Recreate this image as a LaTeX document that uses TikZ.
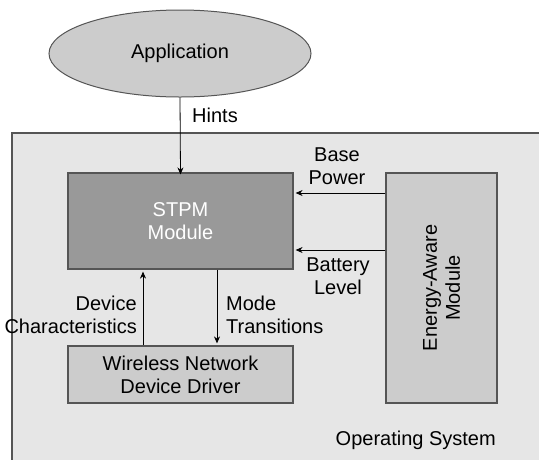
\documentclass[tikz,border=0pt]{standalone}
\usepackage{fontspec}
\setmainfont{Liberation Sans}
\usetikzlibrary{shapes.geometric,arrows.meta}
\definecolor{osfill}{HTML}{E6E6E6}
\definecolor{lightbox}{HTML}{CCCCCC}
\definecolor{darkbox}{HTML}{999999}
\definecolor{edge}{HTML}{555555}
\begin{document}
\begin{tikzpicture}[x=1pt,y=-1pt,
  font=\fontsize{20}{23}\selectfont,
  box/.style={draw=edge,line width=1.2pt,inner sep=0pt,align=center},
  flow/.style={draw=black,line width=0.8pt,-{Stealth[length=7pt,width=6pt]}},
  lbl/.style={inner sep=0pt,align=center}]
\useasboundingbox (0,0) rectangle (539,459);
% operating system area, running off the right and bottom edges
\fill[osfill] (12,133) rectangle (545,465);
\draw[edge,line width=1.5pt] (12,465) -- (12,133) -- (545,133);
\node[lbl,anchor=south east] (os) at (496,450) {Operating System};
% application
\node[ellipse,draw=edge,line width=1pt,fill=lightbox,minimum width=262pt,minimum height=87pt,inner sep=0pt] (app) at (180,53.5) {Application};
% modules
\node[box,fill=darkbox,text=white,minimum width=225pt,minimum height=96pt] (stpm) at (180.5,221) {STPM\\Module};
\node[box,fill=lightbox,minimum width=111pt,minimum height=230pt] (eam) at (441.5,288) {};
\node[lbl,rotate=90] (eamtext) at (eam.center) {Energy-Aware\\Module};
\node[box,fill=lightbox,minimum width=225pt,minimum height=57pt] (wnd) at (180.5,374.5) {Wireless Network\\Device Driver};
% connectors
\draw[flow] (app.south) -- ([yshift=-2pt]stpm.north);
\node[lbl,anchor=west] (hints) at (192,115) {Hints};
\coordinate (bpA) at (eam.west |- 0,193);
\coordinate (bpB) at ([xshift=2pt]stpm.east |- 0,193);
\draw[flow] (bpA) -- (bpB);
\node[lbl] (bp) at (337,166.5) {Base\\Power};
\coordinate (blA) at (eam.west |- 0,250);
\coordinate (blB) at ([xshift=2pt]stpm.east |- 0,250);
\draw[flow] (blA) -- (blB);
\node[lbl] (bl) at (338,276) {Battery\\Level};
\coordinate (dcA) at (wnd.north -| 143,0);
\coordinate (dcB) at ([yshift=-2pt]stpm.south -| 143,0);
\draw[flow] (dcA) -- (dcB);
\node[lbl,align=right,anchor=east] (dc) at (137,314.5) {Device\\Characteristics};
\coordinate (mtA) at (stpm.south -| 217,0);
\coordinate (mtB) at ([yshift=2pt]wnd.north -| 217,0);
\draw[flow] (mtA) -- (mtB);
\node[lbl,align=left,anchor=west] (mt) at (226,314.5) {Mode\\Transitions};
\end{tikzpicture}
\end{document}
